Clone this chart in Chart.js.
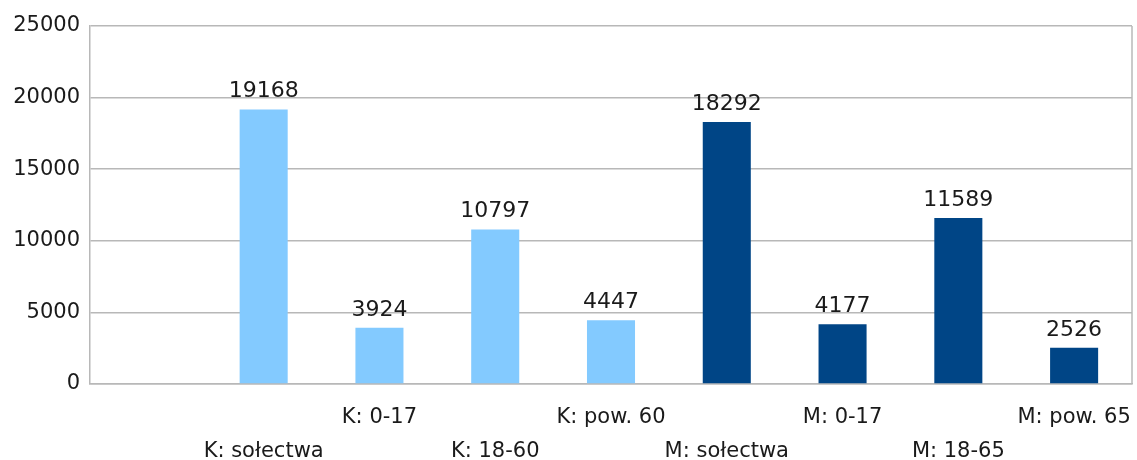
<!DOCTYPE html>
<html>
<head>
<meta charset="utf-8">
<script src="https://cdn.jsdelivr.net/npm/chart.js@4"></script>
<style>
  html, body { margin: 0; padding: 0; background: #ffffff; }
  #wrap { width: 1137px; height: 460px; }
</style>
</head>
<body>
<div id="wrap"><canvas id="c" width="1137" height="460"></canvas></div>
<script>
// Population groups: women (K) and men (M), first slot left empty
const categories = ["", "K: sołectwa", "K: 0-17", "K: 18-60", "K: pow. 60", "M: sołectwa", "M: 0-17", "M: 18-65", "M: pow. 65"];
const values = [null, 19168, 3924, 10797, 4447, 18292, 4177, 11589, 2526];
const yTicks = [0, 5000, 10000, 15000, 20000, 25000];

const LIGHT = "#83caff";
const DARK = "#004586";
const barColors = categories.map(c => c.startsWith("M") ? DARK : LIGHT);

// Alternate labels between two rows so they don't collide
const staggered = categories.map((c, i) => (i % 2 === 0) ? [c, ""] : ["", c]);

const FONT = "'DejaVu Sans', sans-serif";
const TEXT = "#1a1a1a";

const valueLabels = {
  id: "valueLabels",
  afterDatasetsDraw(chart) {
    const ctx = chart.ctx;
    const meta = chart.getDatasetMeta(0);
    ctx.save();
    ctx.font = "22px " + FONT;
    ctx.fillStyle = TEXT;
    ctx.textAlign = "center";
    ctx.textBaseline = "bottom";
    meta.data.forEach((bar, i) => {
      const v = values[i];
      if (v == null) return;
      ctx.fillText(String(v), bar.x, bar.y - 7);
    });
    ctx.restore();
  }
};

const frame = {
  id: "frame",
  beforeDatasetsDraw(chart) {
    const a = chart.chartArea;
    const ctx = chart.ctx;
    ctx.save();
    ctx.strokeStyle = "#b8b8b8";
    ctx.lineWidth = 1.5;
    ctx.beginPath();
    ctx.moveTo(a.right, a.top);
    ctx.lineTo(a.right, a.bottom);
    ctx.stroke();
    ctx.restore();
  }
};

new Chart(document.getElementById("c"), {
  type: "bar",
  data: {
    labels: staggered,
    datasets: [{
      data: values,
      backgroundColor: barColors,
      borderWidth: 0,
      categoryPercentage: 1,
      barPercentage: 0.415
    }]
  },
  options: {
    responsive: false,
    animation: false,
    layout: { padding: { top: 26, right: 5, left: 0, bottom: 0 } },
    plugins: {
      legend: { display: false },
      tooltip: { enabled: false }
    },
    scales: {
      x: {
        grid: { display: false },
        border: { display: true, color: "#b8b8b8", width: 1.5 },
        ticks: {
          autoSkip: false,
          maxRotation: 0,
          minRotation: 0,
          color: TEXT,
          font: { family: FONT, size: 21, lineHeight: 1.62 },
          padding: 9
        },
        afterFit(scale) {
          scale.height = 76;
          scale.paddingLeft = 0;
          scale.paddingRight = 0;
        }
      },
      y: {
        min: 0,
        max: 25000,
        afterBuildTicks(scale) { scale.ticks = yTicks.map(v => ({ value: v })); },
        grid: { color: "#b8b8b8", lineWidth: 1.5, drawTicks: false },
        border: { display: true, color: "#b8b8b8", width: 1.5 },
        ticks: {
          color: TEXT,
          font: { family: FONT, size: 21 },
          padding: 10,
          callback: v => String(v)
        },
        afterFit(scale) { scale.width = 90; }
      }
    }
  },
  plugins: [valueLabels, frame]
});
</script>
</body>
</html>
